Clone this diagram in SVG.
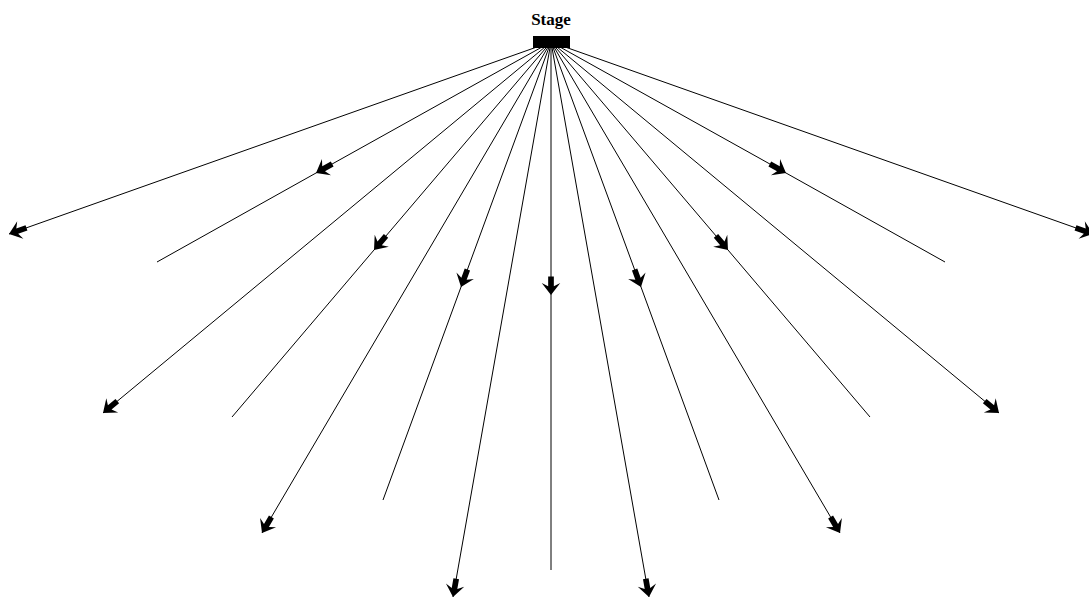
<svg xmlns="http://www.w3.org/2000/svg" width="1089" height="599" viewBox="0 0 1089 599">
<style>
.e{stroke:#000;stroke-width:1;fill:none}
.end{marker-end:url(#ah)}
.mid{marker-mid:url(#ah)}
.lbl{font-family:"Liberation Serif",serif;font-weight:bold;font-size:17px;fill:#000}
</style>
<defs>
<marker id="ah" markerUnits="userSpaceOnUse" orient="auto" markerWidth="24" markerHeight="24" viewBox="-20 -10 22 20" refX="0" refY="0" overflow="visible">
<path d="M0,0 L-11,-8.5 L-8,-2.6 L-17,-2.6 L-17,2.6 L-8,2.6 L-11,8.5 Z" fill="#000"/>
</marker>
</defs>
<rect width="1089" height="599" fill="#fff"/>
<g id="connectors">
<path class="e end" d="M551,42 L9,234"/>
<path class="e end" d="M551,42 L103,413"/>
<path class="e end" d="M551,42 L262,533"/>
<path class="e end" d="M551,42 L453,597"/>
<path class="e end" d="M551,42 L649,597"/>
<path class="e end" d="M551,42 L840,533"/>
<path class="e end" d="M551,42 L999,413"/>
<path class="e end" d="M551,42 L1093,234"/>
<path class="e mid" d="M551,42 L316,173 L157,262"/>
<path class="e mid" d="M551,42 L374,250 L232,417"/>
<path class="e mid" d="M551,42 L461,287 L383,500"/>
<path class="e mid" d="M551,42 L551,295 L551,570"/>
<path class="e mid" d="M551,42 L641,287 L719,500"/>
<path class="e mid" d="M551,42 L728,250 L870,417"/>
<path class="e mid" d="M551,42 L786,173 L945,262"/>
</g>
<g id="stage">
<rect x="533" y="36" width="37" height="12" fill="#000"/>
<text class="lbl" x="551" y="25" text-anchor="middle">Stage</text>
</g>
</svg>
